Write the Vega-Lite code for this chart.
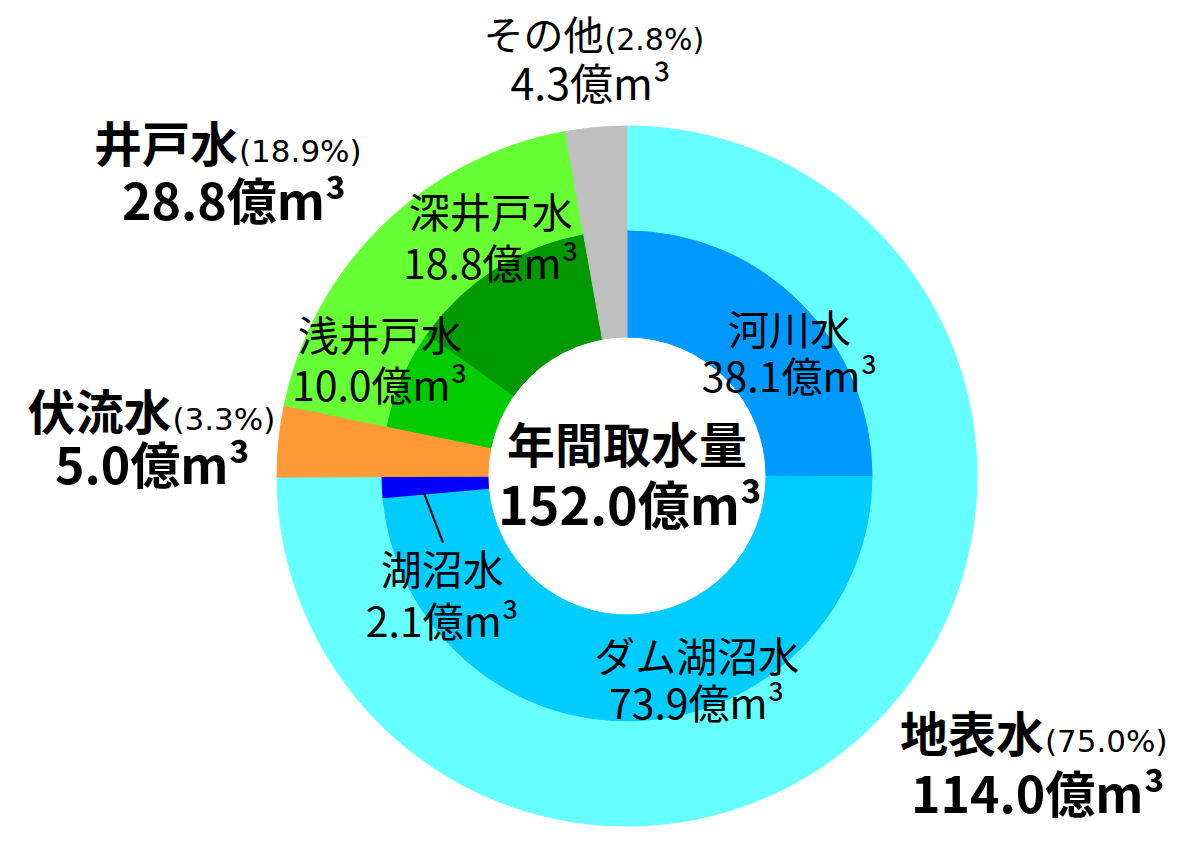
{
  "$schema": "https://vega.github.io/schema/vega-lite/v6.json",
  "width": 700,
  "height": 700,
  "autosize": {"type": "none"},
  "padding": {"left": 277, "top": 126, "right": 216, "bottom": 40},
  "background": "white",
  "datasets": {
    "inner": [
      {"name": "河川水", "value": 38.1, "ord": 1},
      {"name": "ダム湖沼水", "value": 73.9, "ord": 2},
      {"name": "湖沼水", "value": 2.1, "ord": 3},
      {"name": "伏流水", "value": 5.0, "ord": 4},
      {"name": "浅井戸水", "value": 10.0, "ord": 5},
      {"name": "深井戸水", "value": 18.8, "ord": 6},
      {"name": "その他", "value": 4.3, "ord": 7}
    ],
    "outer": [
      {"name": "地表水", "value": 114.0, "pct": 75.0, "ord": 1},
      {"name": "伏流水", "value": 5.0, "pct": 3.3, "ord": 2},
      {"name": "井戸水", "value": 28.8, "pct": 18.9, "ord": 3},
      {"name": "その他", "value": 4.3, "pct": 2.8, "ord": 4}
    ],
    "total": [
      {"name": "年間取水量", "value": 152.0}
    ]
  },
  "layer": [
    {
      "data": {"name": "outer"},
      "mark": {"type": "arc", "outerRadius": 350, "innerRadius": 245, "strokeWidth": 1},
      "encoding": {
        "theta": {"field": "value", "type": "quantitative", "stack": "normalize"},
        "order": {"field": "ord", "type": "quantitative"},
        "color": {
          "field": "name", "type": "nominal", "legend": null,
          "scale": {
            "domain": ["地表水", "伏流水", "井戸水", "その他", "河川水", "ダム湖沼水", "湖沼水", "浅井戸水", "深井戸水"],
            "range": ["#66FFFF", "#FF9933", "#66FF33", "#BFBFBF", "#0099FF", "#00CCFF", "#0000FF", "#00CC00", "#009900"]
          }
        },
        "stroke": {
          "field": "name", "type": "nominal", "legend": null,
          "scale": {
            "domain": ["地表水", "伏流水", "井戸水", "その他", "河川水", "ダム湖沼水", "湖沼水", "浅井戸水", "深井戸水"],
            "range": ["#66FFFF", "#FF9933", "#66FF33", "#BFBFBF", "#0099FF", "#00CCFF", "#0000FF", "#00CC00", "#009900"]
          }
        }
      }
    },
    {
      "data": {"name": "inner"},
      "mark": {"type": "arc", "outerRadius": 245, "innerRadius": 139, "strokeWidth": 1},
      "encoding": {
        "theta": {"field": "value", "type": "quantitative", "stack": "normalize"},
        "order": {"field": "ord", "type": "quantitative"},
        "color": {"field": "name", "type": "nominal", "legend": null},
        "stroke": {"field": "name", "type": "nominal", "legend": null}
      }
    },
    {
      "data": {"name": "inner"},
      "transform": [{"calculate": "datum.name + '\\n' + format(datum.value, '.1f') + '億m³'", "as": "label"}],
      "mark": {"type": "text", "radius": 200, "dx": 21, "dy": 10, "baseline": "alphabetic", "lineBreak": "\n", "lineHeight": 47, "font": "Noto Sans CJK JP", "fontSize": 41, "color": "black"},
      "encoding": {
        "theta": {"field": "value", "type": "quantitative", "stack": "normalize"},
        "order": {"field": "ord", "type": "quantitative"},
        "detail": {"field": "name"},
        "text": {"condition": {"test": "datum.name === '河川水'", "field": "label"}, "value": ""}
      }
    },
    {
      "data": {"name": "inner"},
      "transform": [{"calculate": "datum.name + '\\n' + format(datum.value, '.1f') + '億m³'", "as": "label"}],
      "mark": {"type": "text", "radius": 200, "dx": 61, "dy": -4, "baseline": "alphabetic", "lineBreak": "\n", "lineHeight": 47, "font": "Noto Sans CJK JP", "fontSize": 41, "color": "black"},
      "encoding": {
        "theta": {"field": "value", "type": "quantitative", "stack": "normalize"},
        "order": {"field": "ord", "type": "quantitative"},
        "detail": {"field": "name"},
        "text": {"condition": {"test": "datum.name === 'ダム湖沼水'", "field": "label"}, "value": ""}
      }
    },
    {
      "data": {"name": "inner"},
      "transform": [{"calculate": "datum.name + '\\n' + format(datum.value, '.1f') + '億m³'", "as": "label"}],
      "mark": {"type": "text", "radius": 190, "dx": 5, "dy": 100, "baseline": "alphabetic", "lineBreak": "\n", "lineHeight": 52, "font": "Noto Sans CJK JP", "fontSize": 41, "color": "black"},
      "encoding": {
        "theta": {"field": "value", "type": "quantitative", "stack": "normalize"},
        "order": {"field": "ord", "type": "quantitative"},
        "detail": {"field": "name"},
        "text": {"condition": {"test": "datum.name === '湖沼水'", "field": "label"}, "value": ""}
      }
    },
    {
      "data": {"name": "inner"},
      "mark": {"type": "text", "radius": 195, "angle": -21, "dx": -10.6, "dy": 35.6, "baseline": "middle", "font": "Noto Sans CJK JP", "fontSize": 53, "color": "black"},
      "encoding": {
        "theta": {"field": "value", "type": "quantitative", "stack": "normalize"},
        "order": {"field": "ord", "type": "quantitative"},
        "detail": {"field": "name"},
        "text": {"condition": {"test": "datum.name === '湖沼水'", "value": "│"}, "value": ""}
      }
    },
    {
      "data": {"name": "inner"},
      "transform": [{"calculate": "datum.name + '\\n' + format(datum.value, '.1f') + '億m³'", "as": "label"}],
      "mark": {"type": "text", "radius": 260, "dx": -9, "dy": -21, "baseline": "alphabetic", "lineBreak": "\n", "lineHeight": 50, "font": "Noto Sans CJK JP", "fontSize": 41, "color": "black"},
      "encoding": {
        "theta": {"field": "value", "type": "quantitative", "stack": "normalize"},
        "order": {"field": "ord", "type": "quantitative"},
        "detail": {"field": "name"},
        "text": {"condition": {"test": "datum.name === '浅井戸水'", "field": "label"}, "value": ""}
      }
    },
    {
      "data": {"name": "inner"},
      "transform": [{"calculate": "datum.name + '\\n' + format(datum.value, '.1f') + '億m³'", "as": "label"}],
      "mark": {"type": "text", "radius": 260, "dx": 3, "dy": -28, "baseline": "alphabetic", "lineBreak": "\n", "lineHeight": 51, "font": "Noto Sans CJK JP", "fontSize": 41, "color": "black"},
      "encoding": {
        "theta": {"field": "value", "type": "quantitative", "stack": "normalize"},
        "order": {"field": "ord", "type": "quantitative"},
        "detail": {"field": "name"},
        "text": {"condition": {"test": "datum.name === '深井戸水'", "field": "label"}, "value": ""}
      }
    },
    {
      "data": {"name": "outer"},
      "mark": {"type": "text", "radius": 400, "dx": 12, "dy": -28, "align": "right", "baseline": "alphabetic", "font": "Noto Sans CJK JP", "fontSize": 40, "color": "black"},
      "encoding": {
        "theta": {"field": "value", "type": "quantitative", "stack": "normalize"},
        "order": {"field": "ord", "type": "quantitative"},
        "detail": {"field": "name"},
        "text": {"condition": {"test": "datum.name === 'その他'", "field": "name"}, "value": ""}
      }
    },
    {
      "data": {"name": "outer"},
      "transform": [{"calculate": "'(' + format(datum.pct, '.1f') + '%)'", "as": "pctText"}],
      "mark": {"type": "text", "radius": 400, "dx": 13, "dy": -28, "align": "left", "baseline": "alphabetic", "font": "DejaVu Sans", "fontSize": 30, "color": "black"},
      "encoding": {
        "theta": {"field": "value", "type": "quantitative", "stack": "normalize"},
        "order": {"field": "ord", "type": "quantitative"},
        "detail": {"field": "name"},
        "text": {"condition": {"test": "datum.name === 'その他'", "field": "pctText"}, "value": ""}
      }
    },
    {
      "data": {"name": "outer"},
      "transform": [{"calculate": "format(datum.value, '.1f') + '億m³'", "as": "amount"}],
      "mark": {"type": "text", "radius": 400, "dx": -1, "dy": 22, "baseline": "alphabetic", "font": "Noto Sans CJK JP", "fontSize": 43, "color": "black"},
      "encoding": {
        "theta": {"field": "value", "type": "quantitative", "stack": "normalize"},
        "order": {"field": "ord", "type": "quantitative"},
        "detail": {"field": "name"},
        "text": {"condition": {"test": "datum.name === 'その他'", "field": "amount"}, "value": ""}
      }
    },
    {
      "data": {"name": "outer"},
      "mark": {"type": "text", "radius": 480, "dx": -54, "dy": 30, "align": "right", "baseline": "alphabetic", "font": "Noto Sans CJK JP", "fontSize": 48, "fontWeight": "bold", "color": "black"},
      "encoding": {
        "theta": {"field": "value", "type": "quantitative", "stack": "normalize"},
        "order": {"field": "ord", "type": "quantitative"},
        "detail": {"field": "name"},
        "text": {"condition": {"test": "datum.name === '井戸水'", "field": "name"}, "value": ""}
      }
    },
    {
      "data": {"name": "outer"},
      "transform": [{"calculate": "'(' + format(datum.pct, '.1f') + '%)'", "as": "pctText"}],
      "mark": {"type": "text", "radius": 480, "dx": -53, "dy": 30, "align": "left", "baseline": "alphabetic", "font": "DejaVu Sans", "fontSize": 31, "color": "black"},
      "encoding": {
        "theta": {"field": "value", "type": "quantitative", "stack": "normalize"},
        "order": {"field": "ord", "type": "quantitative"},
        "detail": {"field": "name"},
        "text": {"condition": {"test": "datum.name === '井戸水'", "field": "pctText"}, "value": ""}
      }
    },
    {
      "data": {"name": "outer"},
      "transform": [{"calculate": "format(datum.value, '.1f') + '億m³'", "as": "amount"}],
      "mark": {"type": "text", "radius": 480, "dx": -58, "dy": 88, "baseline": "alphabetic", "font": "Noto Sans CJK JP", "fontSize": 50, "fontWeight": "bold", "color": "black"},
      "encoding": {
        "theta": {"field": "value", "type": "quantitative", "stack": "normalize"},
        "order": {"field": "ord", "type": "quantitative"},
        "detail": {"field": "name"},
        "text": {"condition": {"test": "datum.name === '井戸水'", "field": "amount"}, "value": ""}
      }
    },
    {
      "data": {"name": "outer"},
      "mark": {"type": "text", "radius": 480, "dx": 22, "dy": 2, "align": "right", "baseline": "alphabetic", "font": "Noto Sans CJK JP", "fontSize": 48, "fontWeight": "bold", "color": "black"},
      "encoding": {
        "theta": {"field": "value", "type": "quantitative", "stack": "normalize"},
        "order": {"field": "ord", "type": "quantitative"},
        "detail": {"field": "name"},
        "text": {"condition": {"test": "datum.name === '伏流水'", "field": "name"}, "value": ""}
      }
    },
    {
      "data": {"name": "outer"},
      "transform": [{"calculate": "'(' + format(datum.pct, '.1f') + '%)'", "as": "pctText"}],
      "mark": {"type": "text", "radius": 480, "dx": 23, "dy": 2, "align": "left", "baseline": "alphabetic", "font": "DejaVu Sans", "fontSize": 31, "color": "black"},
      "encoding": {
        "theta": {"field": "value", "type": "quantitative", "stack": "normalize"},
        "order": {"field": "ord", "type": "quantitative"},
        "detail": {"field": "name"},
        "text": {"condition": {"test": "datum.name === '伏流水'", "field": "pctText"}, "value": ""}
      }
    },
    {
      "data": {"name": "outer"},
      "transform": [{"calculate": "format(datum.value, '.1f') + '億m³'", "as": "amount"}],
      "mark": {"type": "text", "radius": 480, "dx": 3, "dy": 56, "baseline": "alphabetic", "font": "Noto Sans CJK JP", "fontSize": 50, "fontWeight": "bold", "color": "black"},
      "encoding": {
        "theta": {"field": "value", "type": "quantitative", "stack": "normalize"},
        "order": {"field": "ord", "type": "quantitative"},
        "detail": {"field": "name"},
        "text": {"condition": {"test": "datum.name === '伏流水'", "field": "amount"}, "value": ""}
      }
    },
    {
      "data": {"name": "outer"},
      "mark": {"type": "text", "radius": 480, "dx": 77, "dy": -63, "align": "right", "baseline": "alphabetic", "font": "Noto Sans CJK JP", "fontSize": 48, "fontWeight": "bold", "color": "black"},
      "encoding": {
        "theta": {"field": "value", "type": "quantitative", "stack": "normalize"},
        "order": {"field": "ord", "type": "quantitative"},
        "detail": {"field": "name"},
        "text": {"condition": {"test": "datum.name === '地表水'", "field": "name"}, "value": ""}
      }
    },
    {
      "data": {"name": "outer"},
      "transform": [{"calculate": "'(' + format(datum.pct, '.1f') + '%)'", "as": "pctText"}],
      "mark": {"type": "text", "radius": 480, "dx": 78, "dy": -63, "align": "left", "baseline": "alphabetic", "font": "DejaVu Sans", "fontSize": 31, "color": "black"},
      "encoding": {
        "theta": {"field": "value", "type": "quantitative", "stack": "normalize"},
        "order": {"field": "ord", "type": "quantitative"},
        "detail": {"field": "name"},
        "text": {"condition": {"test": "datum.name === '地表水'", "field": "pctText"}, "value": ""}
      }
    },
    {
      "data": {"name": "outer"},
      "transform": [{"calculate": "format(datum.value, '.1f') + '億m³'", "as": "amount"}],
      "mark": {"type": "text", "radius": 480, "dx": 71, "dy": -2, "baseline": "alphabetic", "font": "Noto Sans CJK JP", "fontSize": 50, "fontWeight": "bold", "color": "black"},
      "encoding": {
        "theta": {"field": "value", "type": "quantitative", "stack": "normalize"},
        "order": {"field": "ord", "type": "quantitative"},
        "detail": {"field": "name"},
        "text": {"condition": {"test": "datum.name === '地表水'", "field": "amount"}, "value": ""}
      }
    },
    {
      "data": {"name": "total"},
      "mark": {"type": "text", "dx": 0, "dy": -13, "baseline": "alphabetic", "font": "Noto Sans CJK JP", "fontSize": 48, "fontWeight": "bold", "color": "black"},
      "encoding": {
        "text": {"field": "name"}
      }
    },
    {
      "data": {"name": "total"},
      "transform": [{"calculate": "format(datum.value, '.1f') + '億m³'", "as": "amount"}],
      "mark": {"type": "text", "dx": 3, "dy": 49, "baseline": "alphabetic", "font": "Noto Sans CJK JP", "fontSize": 52, "fontWeight": "bold", "color": "black"},
      "encoding": {
        "text": {"field": "amount"}
      }
    }
  ],
  "config": {
    "view": {"stroke": null}
  }
}
